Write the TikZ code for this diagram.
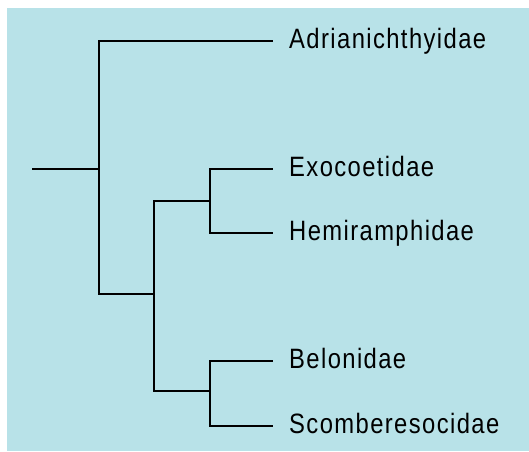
\documentclass[tikz,border=0pt]{standalone}
\usepackage{fontspec}
\setmainfont{Liberation Sans}[FakeStretch=0.85,LetterSpace=5]
\definecolor{bgblue}{RGB}{184,226,232}
\tikzset{
  branch/.style={line width=1.8pt, line join=miter, line cap=rect, black},
  taxon/.style={anchor=base west, inner sep=0pt, font=\fontsize{28}{30}\selectfont}
}
\begin{document}
\begin{tikzpicture}[x=1pt,y=-1pt]
\useasboundingbox (0,0) rectangle (529,451);
\fill[bgblue] (7,8) rectangle (529,451);
% internal coordinates
\coordinate (root) at (33,169);
\coordinate (n1) at (99,169);
\coordinate (n2) at (154,294);
\coordinate (n3) at (210,201);
\coordinate (n4) at (210,391);
% tip ends
\coordinate (eA) at (272,41);
\coordinate (eE) at (272,169);
\coordinate (eH) at (272,233);
\coordinate (eB) at (272,361);
\coordinate (eS) at (272,426);
% labels
\node[taxon] (tA) at (289,48) {Adrianichthyidae};
\node[taxon] (tE) at (289,176) {Exocoetidae};
\node[taxon] (tH) at (289,240) {Hemiramphidae};
\node[taxon] (tB) at (289,368) {Belonidae};
\node[taxon] (tS) at (289,433) {Scomberesocidae};
% branches
\draw[branch] (root) -- (n1);
\draw[branch] (n1) |- (eA);
\draw[branch] (n1) |- (n2);
\draw[branch] (n2) |- (n3);
\draw[branch] (n2) |- (n4);
\draw[branch] (n3) |- (eE);
\draw[branch] (n3) |- (eH);
\draw[branch] (n4) |- (eB);
\draw[branch] (n4) |- (eS);
\end{tikzpicture}
\end{document}
